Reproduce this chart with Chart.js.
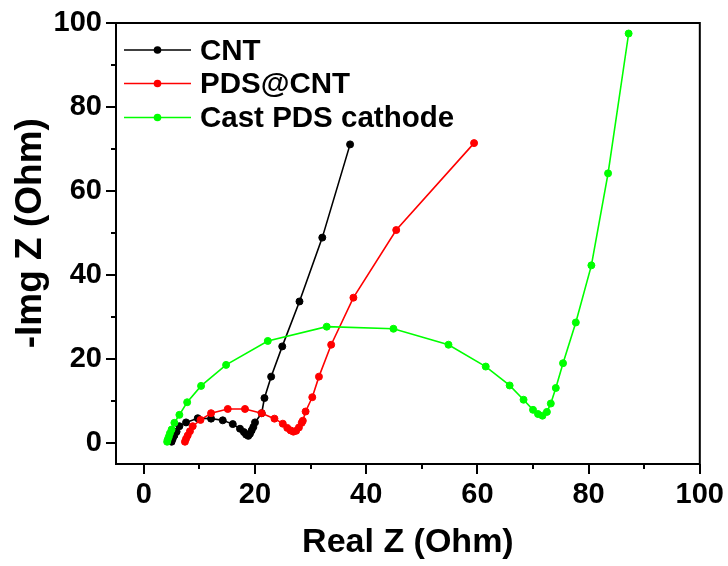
<!DOCTYPE html>
<html>
<head>
<meta charset="utf-8">
<script src="https://cdn.jsdelivr.net/npm/chart.js@4"></script>
<style>
  html, body { margin: 0; padding: 0; background: #fff; }
  #wrap { width: 728px; height: 566px; }
</style>
</head>
<body>
<div id="wrap"><canvas id="c" width="728" height="566"></canvas></div>
<script>
// ---- data ----
const seriesNames = ['CNT', 'PDS@CNT', 'Cast PDS cathode'];
const seriesColors = ['#000000', '#ff0000', '#00ff00'];

const cntX = [5.0, 5.2, 5.5, 5.9, 6.4, 7.6, 9.7, 12.1, 14.2, 16.0, 17.3, 18.0, 18.4, 18.8, 19.1, 19.4, 19.7, 20.0, 21.2, 21.7, 22.9, 24.9, 28.0, 32.1, 37.1];
const cntY = [0.3, 1.0, 1.8, 2.7, 4.0, 4.9, 5.9, 5.8, 5.4, 4.5, 3.4, 2.6, 2.0, 1.7, 2.2, 3.0, 3.8, 4.9, 7.1, 10.7, 15.8, 23.0, 33.7, 48.9, 71.1];

const pdsX = [7.4, 7.6, 7.9, 8.3, 8.8, 10.2, 12.1, 15.1, 18.2, 21.2, 23.5, 25.0, 25.8, 26.4, 26.9, 27.4, 27.9, 28.4, 28.6, 29.1, 30.3, 31.5, 33.7, 37.7, 45.4, 59.4];
const pdsY = [0.3, 1.0, 1.8, 2.8, 4.0, 5.5, 7.1, 8.1, 8.1, 7.1, 5.8, 4.6, 3.6, 3.0, 2.7, 2.9, 3.7, 4.8, 5.3, 7.5, 10.9, 15.8, 23.4, 34.6, 50.7, 71.4];

const castX = [4.2, 4.3, 4.5, 4.7, 5.0, 5.5, 6.4, 7.8, 10.3, 14.8, 22.3, 32.9, 44.9, 54.8, 61.5, 65.8, 68.3, 70.0, 70.9, 71.7, 72.5, 73.2, 74.1, 75.4, 77.7, 80.5, 83.5, 87.2];
const castY = [0.3, 0.8, 1.5, 2.3, 3.2, 4.8, 6.7, 9.7, 13.6, 18.6, 24.3, 27.7, 27.2, 23.4, 18.2, 13.7, 10.3, 7.9, 6.9, 6.5, 7.4, 9.4, 13.1, 19.0, 28.7, 42.3, 64.2, 97.5];

const xMajorTicks = [0, 20, 40, 60, 80, 100];
const yMajorTicks = [0, 20, 40, 60, 80, 100];
const xMinorTicks = [10, 30, 50, 70, 90];
const yMinorTicks = [10, 30, 50, 70, 90];
const xTitle = 'Real Z (Ohm)';
const yTitle = '-Img Z (Ohm)';

// ---- build ----
const FONT = '"Liberation Sans", Arial, sans-serif';
const toPts = (xs, ys) => xs.map((x, i) => ({ x: x, y: ys[i] }));
const allX = [cntX, pdsX, castX];
const allY = [cntY, pdsY, castY];

const datasets = seriesNames.map((name, i) => ({
  label: name,
  data: toPts(allX[i], allY[i]),
  showLine: true,
  borderColor: seriesColors[i],
  backgroundColor: seriesColors[i],
  borderWidth: 1.6,
  pointRadius: 3.5,
  pointBorderWidth: 1,
  pointBorderColor: seriesColors[i],
  pointBackgroundColor: seriesColors[i],
  tension: 0,
  order: 3 - i
}));

const framePlugin = {
  id: 'frame',
  afterDraw(chart) {
    const { ctx, chartArea: a } = chart;
    const xs = chart.scales.x, ys = chart.scales.y;
    ctx.save();
    ctx.strokeStyle = '#000';
    ctx.lineWidth = 2;
    ctx.strokeRect(a.left, a.top, a.right - a.left, a.bottom - a.top);
    // minor ticks (outward)
    ctx.beginPath();
    xMinorTicks.forEach(v => {
      const px = Math.round(xs.getPixelForValue(v));
      ctx.moveTo(px, a.bottom); ctx.lineTo(px, a.bottom + 5);
    });
    yMinorTicks.forEach(v => {
      const py = Math.round(ys.getPixelForValue(v));
      ctx.moveTo(a.left, py); ctx.lineTo(a.left - 5, py);
    });
    ctx.stroke();
    // legend inside plot
    const lx = a.left + 8, len = 67, tx = a.left + 84;
    const rows = [27, 60.5, 94.5];
    ctx.font = 'bold 29.5px ' + FONT;
    ctx.textBaseline = 'middle';
    ctx.textAlign = 'left';
    seriesNames.forEach((name, i) => {
      const y = a.top + rows[i];
      ctx.strokeStyle = seriesColors[i];
      ctx.fillStyle = seriesColors[i];
      ctx.lineWidth = 1.6;
      ctx.beginPath(); ctx.moveTo(lx, y); ctx.lineTo(lx + len, y); ctx.stroke();
      ctx.beginPath(); ctx.arc(lx + len / 2, y, 3.8, 0, Math.PI * 2); ctx.fill();
      ctx.fillStyle = '#000';
      ctx.fillText(name, tx, y + 1.5);
    });
    ctx.restore();
  }
};

new Chart(document.getElementById('c'), {
  type: 'scatter',
  data: { datasets },
  options: {
    responsive: false,
    animation: false,
    devicePixelRatio: 1,
    layout: { padding: { top: 23, right: 28, left: 0, bottom: 0 } },
    plugins: { legend: { display: false }, tooltip: { enabled: false } },
    scales: {
      x: {
        type: 'linear', min: -5, max: 100,
        afterBuildTicks: s => { s.ticks = xMajorTicks.map(v => ({ value: v })); },
        afterFit: s => { s.height = 102; },
        border: { display: false },
        grid: { drawOnChartArea: false, drawTicks: true, tickLength: 10, color: '#000', lineWidth: 2 },
        ticks: { color: '#000', font: { family: FONT, size: 29, weight: 'bold' }, padding: 4, maxRotation: 0, autoSkip: false },
        title: { display: true, text: xTitle, color: '#000', font: { family: FONT, size: 34, weight: 'bold' }, padding: { top: 0, bottom: 3 } }
      },
      y: {
        type: 'linear', min: -5, max: 100,
        afterBuildTicks: s => { s.ticks = yMajorTicks.map(v => ({ value: v })); },
        afterFit: s => { s.width = 116; },
        border: { display: false },
        grid: { drawOnChartArea: false, drawTicks: true, tickLength: 10, color: '#000', lineWidth: 2 },
        ticks: { color: '#000', font: { family: FONT, size: 29, weight: 'bold' }, padding: 4, autoSkip: false },
        title: { display: true, text: '  ' + yTitle, color: '#000', font: { family: FONT, size: 37, weight: 'bold' }, padding: { top: 9, bottom: 0 } }
      }
    }
  },
  plugins: [framePlugin]
});
</script>
</body>
</html>
